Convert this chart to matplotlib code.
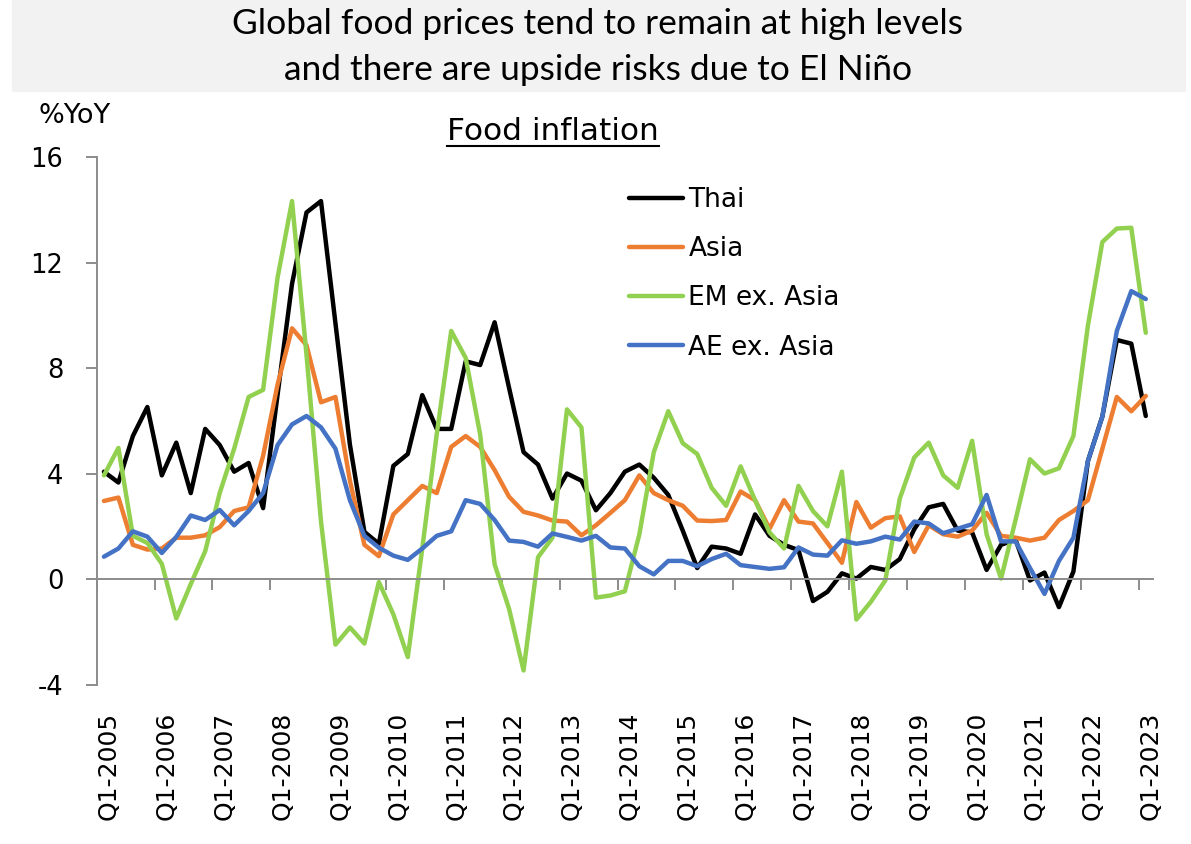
import matplotlib
matplotlib.use("Agg")
import matplotlib.pyplot as plt
from matplotlib.patches import Rectangle
from matplotlib.lines import Line2D
from matplotlib.transforms import ScaledTranslation
import numpy as np

plt.rcParams['font.family'] = ['DejaVu Sans']
plt.rcParams['axes.unicode_minus'] = False

# quarterly food inflation, Q1-2005 .. Q1-2023 (%YoY)
years = list(range(2005, 2024))
tick_labels = ["Q1-%d" % y for y in years]

thai = [4.08, 3.67, 5.43, 6.53, 3.94, 5.18, 3.27, 5.70, 5.09, 4.08, 4.41, 2.70,
        7.00, 11.2, 13.9, 14.33, 9.7, 5.1, 1.8, 1.35,
        4.3, 4.75, 6.98, 5.70, 5.70, 8.26, 8.12, 9.74, 7.25, 4.82, 4.35, 3.06,
        4.01, 3.74, 2.62, 3.27, 4.08, 4.35, 3.85, 3.2,
        1.85, 0.43, 1.24, 1.17, 0.97, 2.46, 1.65, 1.31, 1.11, -0.82, -0.47, 0.23,
        0.03, 0.47, 0.36, 0.77, 1.9, 2.73, 2.86, 1.85,
        1.78, 0.36, 1.31, 1.51, -0.04, 0.26, -1.05, 0.30, 4.48, 6.17, 9.07, 8.93,
        6.19]

asia = [2.97, 3.10, 1.31, 1.13, 1.17, 1.58, 1.58, 1.67, 1.98, 2.59, 2.73, 4.68,
        7.38, 9.51, 8.87, 6.71, 6.91, 3.74, 1.31, 0.88,
        2.46, 3.0, 3.54, 3.27, 5.02, 5.43, 5.02, 4.14, 3.13, 2.56, 2.42, 2.23,
        2.19, 1.67, 2.05, 2.52, 3.0, 3.94, 3.27, 3.0,
        2.79, 2.23, 2.21, 2.25, 3.33, 3.0, 1.92, 3.0, 2.19, 2.12, 1.38, 0.63,
        2.93, 1.96, 2.32, 2.39, 1.04, 2.05, 1.71, 1.62,
        1.85, 2.52, 1.65, 1.58, 1.47, 1.58, 2.25, 2.59, 3.0, 4.95, 6.91, 6.37,
        6.95]

em_ex_asia = [3.94, 4.98, 1.65, 1.38, 0.59, -1.48, -0.18, 1.07, 3.27, 4.95, 6.91, 7.18,
              11.43, 14.33, 8.5, 2.2, -2.47, -1.82, -2.43, -0.1,
              -1.32, -2.94, 1.17, 5.5, 9.41, 8.39, 5.49, 0.57, -1.12, -3.45, 0.84, 1.58,
              6.44, 5.76, -0.69, -0.61, -0.45, 1.7, 4.82, 6.37,
              5.16, 4.75, 3.47, 2.79, 4.28, 3.0, 1.78, 1.17, 3.54, 2.59, 2.01, 4.08,
              -1.52, -0.85, -0.04, 3.06, 4.62, 5.18, 3.94, 3.47,
              5.25, 1.71, 0.03, 2.25, 4.55, 4.01, 4.21, 5.43, 9.61, 12.78, 13.29, 13.32,
              9.34]

ae_ex_asia = [0.86, 1.17, 1.82, 1.62, 1.0, 1.61, 2.42, 2.25, 2.63, 2.05, 2.59, 3.27,
              5.09, 5.87, 6.19, 5.76, 4.95, 3.0, 1.65, 1.2,
              0.90, 0.74, 1.17, 1.65, 1.82, 3.0, 2.86, 2.25, 1.47, 1.42, 1.24, 1.74,
              1.61, 1.47, 1.65, 1.21, 1.17, 0.50, 0.19, 0.70,
              0.70, 0.50, 0.77, 0.97, 0.54, 0.47, 0.40, 0.46, 1.21, 0.94, 0.90, 1.48,
              1.35, 1.44, 1.62, 1.51, 2.19, 2.12, 1.75, 1.92,
              2.09, 3.2, 1.44, 1.44, 0.43, -0.55, 0.70, 1.58, 4.48, 6.17, 9.41, 10.92,
              10.62]

series = [
    ("Thai", thai, "#000000"),
    ("Asia", asia, "#ED7D31"),
    ("EM ex. Asia", em_ex_asia, "#92D050"),
    ("AE ex. Asia", ae_ex_asia, "#4472C4"),
]

W, H = 1191, 844
fig = plt.figure(figsize=(W / 100, H / 100), dpi=100)
gray = "#8c8c8c"

# header band
fig.patches.append(Rectangle((12 / W, 1 - 91 / H), (1185 - 12) / W, 91 / H,
                             transform=fig.transFigure, color="#F2F2F2", zorder=0))
fig.text(0.502, 1 - 24 / H, "Global food prices tend to remain at high levels",
         ha="center", va="center", fontsize=25.5, family="Lato")
fig.text(0.502, 1 - 70 / H, "and there are upside risks due to El Niño",
         ha="center", va="center", fontsize=25.5, family="Lato")

ax = fig.add_axes([96.7 / W, 1 - 685 / H, (1153 - 96.7) / W, (685 - 157) / H])

x = np.arange(len(thai))
for name, vals, col in series:
    ax.plot(x, vals, color=col, lw=3.2, label=name, solid_joinstyle="round",
            solid_capstyle="round")

ax.set_xlim(-0.5, len(thai) - 0.5)
ax.set_ylim(-4, 16)
ax.set_yticks(range(-4, 17, 4))

for s in ["top", "right"]:
    ax.spines[s].set_visible(False)
ax.spines["bottom"].set_position(("data", 0))
for s in ["left", "bottom"]:
    ax.spines[s].set_color(gray)
    ax.spines[s].set_linewidth(1.4)

# tick marks between categories, one per year
ax.set_xticks(np.arange(-0.5, len(thai) - 1, 4))
ax.tick_params(axis="x", length=8, width=1.4, color=gray, labelbottom=False)
ax.tick_params(axis="y", length=8, width=1.4, color=gray, labelsize=18.5, pad=16)

# category labels sit at the bottom of the plot
sec = ax.secondary_xaxis("bottom")
sec.set_xticks(x[::4], labels=tick_labels)
sec.tick_params(length=0, pad=19, labelsize=18, rotation=90)
sec.spines["bottom"].set_visible(False)
off = ScaledTranslation(5 / 100, 0, fig.dpi_scale_trans)
for lab in sec.get_xticklabels():
    lab.set_transform(lab.get_transform() + off)

fig.text(38 / W, 1 - 116 / H, "%YoY", ha="left", va="center", fontsize=19.5)
sub = fig.text(553 / W, 1 - 132 / H, "Food inflation", ha="center", va="center",
               fontsize=22.5)

ax.legend(loc="upper left", bbox_to_anchor=(629 / W, 1 - 187 / H),
          bbox_transform=fig.transFigure, frameon=False, fontsize=19,
          handlelength=2.05, handletextpad=0.2, labelspacing=0.88,
          borderpad=0, borderaxespad=0)

# underline the subtitle
fig.canvas.draw()
bb = sub.get_window_extent().transformed(fig.transFigure.inverted())
fig.add_artist(Line2D([bb.x0, bb.x1], [bb.y0 + 1 / H, bb.y0 + 1 / H],
                      transform=fig.transFigure, color="black", lw=1.5))

fig.savefig("out.png", dpi=100)
